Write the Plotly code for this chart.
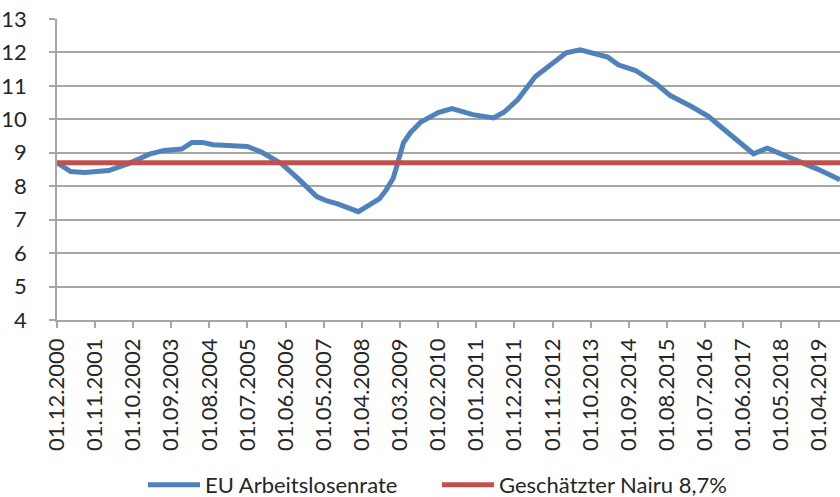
import plotly.graph_objects as go
from datetime import datetime

# ---- data ----
dates = [
    "2000-12-01", "2001-04-01", "2001-08-01", "2002-03-01", "2002-09-01",
    "2003-03-01", "2003-07-01", "2003-12-01", "2004-03-01", "2004-06-01",
    "2004-09-01", "2005-01-01", "2005-04-01", "2005-07-01", "2005-11-01",
    "2006-02-01", "2006-05-01", "2006-10-01", "2007-03-01", "2007-06-01",
    "2007-09-01", "2008-03-01", "2008-09-01", "2008-11-01", "2009-01-01",
    "2009-02-01", "2009-03-01", "2009-04-01", "2009-06-01", "2009-09-01",
    "2010-02-01", "2010-06-01", "2010-12-01", "2011-06-01", "2011-09-01",
    "2012-01-01", "2012-06-01", "2012-10-01", "2013-03-01", "2013-07-01",
    "2013-12-01", "2014-03-01", "2014-06-01", "2014-11-01", "2015-05-01",
    "2015-09-01", "2016-03-01", "2016-08-01", "2016-12-01", "2017-03-01",
    "2017-06-01", "2017-09-01", "2018-01-01", "2018-07-01", "2018-10-01",
    "2019-04-01", "2019-10-01",
]
eu_rate = [
    8.70, 8.44, 8.41, 8.47, 8.69,
    8.97, 9.07, 9.11, 9.31, 9.31,
    9.24, 9.23, 9.19, 9.19, 9.02,
    8.82, 8.66, 8.19, 7.69, 7.56,
    7.47, 7.24, 7.62, 7.89, 8.24,
    8.59, 8.94, 9.30, 9.60, 9.92,
    10.20, 10.32, 10.14, 10.04, 10.21,
    10.59, 11.27, 11.61, 11.99, 12.08,
    11.93, 11.86, 11.63, 11.46, 11.06,
    10.71, 10.39, 10.09, 9.74, 9.49,
    9.19, 8.97, 9.14, 8.89, 8.74,
    8.49, 8.19,
]
nairu = 8.7

tick_labels = [
    "01.12.2000", "01.11.2001", "01.10.2002", "01.09.2003", "01.08.2004",
    "01.07.2005", "01.06.2006", "01.05.2007", "01.04.2008", "01.03.2009",
    "01.02.2010", "01.01.2011", "01.12.2011", "01.11.2012", "01.10.2013",
    "01.09.2014", "01.08.2015", "01.07.2016", "01.06.2017", "01.05.2018",
    "01.04.2019",
]
y_ticks = [4, 5, 6, 7, 8, 9, 10, 11, 12, 13]

x_start = "2000-12-01"
x_end = "2019-10-01"

tick_vals = [datetime.strptime(t, "%d.%m.%Y").strftime("%Y-%m-%d") for t in tick_labels]

FONT = "Lato"
TXT = "#262626"
GRID = "#a6a6a6"
FS = 22

fig = go.Figure()
fig.add_trace(go.Scatter(
    x=dates, y=eu_rate, mode="lines", name="EU Arbeitslosenrate",
    line=dict(color="#4F81BD", width=5), legend="legend",
))
fig.add_trace(go.Scatter(
    x=[x_start, x_end], y=[nairu, nairu], mode="lines",
    name="Geschätzter Nairu 8,7%",
    line=dict(color="#C0504D", width=5), legend="legend2",
))

leg_common = dict(
    orientation="h", xref="container", yref="container",
    xanchor="left", yanchor="middle", y=1 - 485 / 497,
    font=dict(family=FONT, size=FS, color=TXT),
    itemwidth=52, bgcolor="rgba(0,0,0,0)",
)

fig.update_layout(
    width=840, height=497,
    margin=dict(l=57, r=0, t=19, b=177, autoexpand=False),
    paper_bgcolor="white", plot_bgcolor="white",
    font=dict(family=FONT, size=FS, color=TXT),
    showlegend=True,
    legend=dict(x=(148 - 5) / 840, **leg_common),
    legend2=dict(x=(442 - 5) / 840, **leg_common),
)
fig.update_xaxes(
    type="date", range=[x_start, x_end], automargin=False,
    tickmode="array", tickvals=tick_vals, ticktext=tick_labels,
    tickangle=-90, ticks="outside", ticklen=6, tickcolor=GRID, tickwidth=1.5,
    showline=True, linecolor=GRID, linewidth=1.5,
    showgrid=False, zeroline=False,
    tickfont=dict(family=FONT, size=FS, color=TXT),
    ticklabelstandoff=2, ticklabeloverflow="allow",
)
fig.update_yaxes(
    range=[4, 13], tickmode="array", tickvals=y_ticks, automargin=False,
    ticks="outside", ticklen=6, tickcolor=GRID, tickwidth=1.5,
    showline=True, linecolor=GRID, linewidth=1.5,
    showgrid=True, gridcolor=GRID, gridwidth=1.5, zeroline=False,
    tickfont=dict(family=FONT, size=FS, color=TXT),
    ticklabelstandoff=18, ticklabeloverflow="allow",
)

fig.write_html(
    "out.html",
    config={"displayModeBar": False},
    post_script="document.body.style.margin='0px';",
)
